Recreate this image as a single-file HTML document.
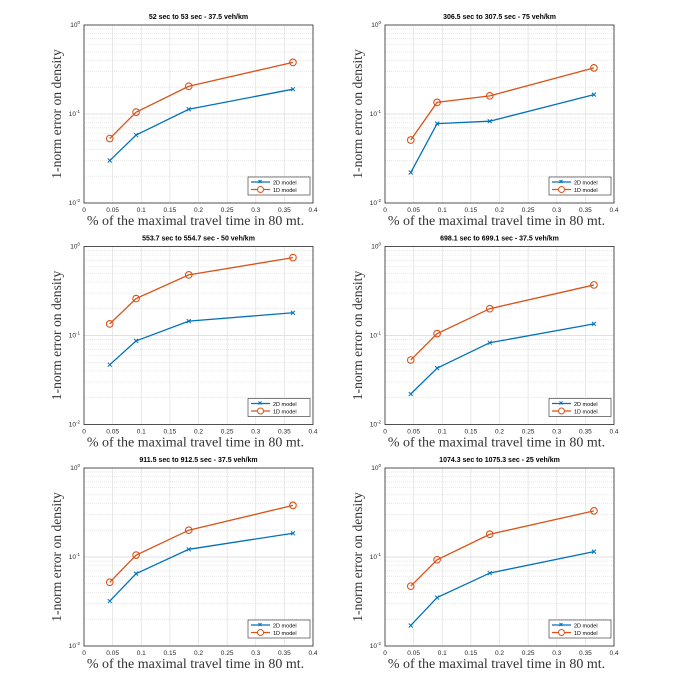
<!DOCTYPE html>
<html><head><meta charset="utf-8"><style>
body{margin:0;background:#fff;}
svg{display:block;}
</style></head><body>
<svg id="fig" width="675" height="682" xmlns="http://www.w3.org/2000/svg"></svg>
<script>
const xValues=[0.045,0.091,0.183,0.365];
const xTicks=[0,0.05,0.1,0.15,0.2,0.25,0.3,0.35,0.4];
const xTickLabels=["0","0.05","0.1","0.15","0.2","0.25","0.3","0.35","0.4"];
const titles=["52 sec to 53 sec - 37.5 veh/km","306.5 sec to 307.5 sec - 75 veh/km","553.7 sec to 554.7 sec - 50 veh/km","698.1 sec to 699.1 sec - 37.5 veh/km","911.5 sec to 912.5 sec - 37.5 veh/km","1074.3 sec to 1075.3 sec - 25 veh/km"];
const series2D=[[0.03,0.058,0.113,0.19],[0.022,0.078,0.083,0.165],[0.047,0.087,0.145,0.18],[0.022,0.043,0.083,0.135],[0.032,0.065,0.122,0.185],[0.017,0.035,0.066,0.115]];
const series1D=[[0.053,0.105,0.205,0.38],[0.051,0.135,0.16,0.33],[0.135,0.26,0.48,0.75],[0.053,0.105,0.2,0.37],[0.052,0.105,0.2,0.38],[0.047,0.093,0.18,0.33]];

const NS="http://www.w3.org/2000/svg";
const fig=document.getElementById('fig');
function mk(tag,attrs,parent,text){const e=document.createElementNS(NS,tag);for(const k in attrs)e.setAttribute(k,attrs[k]);if(text!==undefined)e.textContent=text;parent.appendChild(e);return e;}
const W=229,H=178;
const blue="#0072BD",orange="#D95319";
for(let p=0;p<6;p++){
  const ox=84+(p%2)*301, oy=25+Math.floor(p/2)*221.5;
  const g=mk('g',{},fig);
  
  
  const sx=v=>ox+v/0.4*W;
  const sy=v=>oy+H-(Math.log10(v)+2)/2*H;
  for(let d=-2;d<0;d++)for(let m=2;m<=9;m++){const y=sy(m*Math.pow(10,d));
    mk('line',{x1:ox,x2:ox+W,y1:y,y2:y,stroke:'#dadada','stroke-width':0.6,'stroke-dasharray':'1,1'},g);}
  for(const v of [0.1]){const y=sy(v);mk('line',{x1:ox,x2:ox+W,y1:y,y2:y,stroke:'#d6d6d6','stroke-width':0.7},g);}
  xTicks.forEach(t=>{if(t>0&&t<0.4)mk('line',{x1:sx(t),x2:sx(t),y1:oy,y2:oy+H,stroke:'#e0e0e0','stroke-width':0.7},g);});
  mk('rect',{x:ox,y:oy,width:W,height:H,fill:'none',stroke:'#262626','stroke-width':0.8},g);
  xTicks.forEach((t,i)=>{const l=mk('text',{x:sx(t),y:oy+H+9,'font-size':6.5,'text-anchor':'middle','font-family':'Liberation Sans, sans-serif',fill:'#262626'},g,xTickLabels[i]);
    });
  [[-2,H],[-1,H/2],[0,0]].forEach(([e,dy])=>{const t=mk('text',{x:ox-4,y:oy+dy+2,'font-size':6.5,'text-anchor':'end','font-family':'Liberation Sans, sans-serif',fill:'#262626'},g);
    
    t.appendChild(document.createTextNode('10'));mk('tspan',{dy:-3,'font-size':4.5},t,String(e));});
  const tt=mk('text',{x:ox+W/2,y:oy-6,'font-size':7,'font-weight':'bold','text-anchor':'middle','font-family':'Liberation Sans, sans-serif',fill:'#000'},g,titles[p]);
  
  const xl=mk('text',{x:ox+W/2-3,y:oy+H+22,'font-size':14,'text-anchor':'middle','font-family':'Liberation Serif, serif',fill:'#333'},g,'% of the maximal travel time in 80 mt.');
  
  const yl=mk('text',{x:0,y:0,'font-size':13.6,'text-anchor':'middle','font-family':'Liberation Serif, serif',fill:'#333',transform:`translate(${ox-23},${oy+H/2}) rotate(-90)`},g,'1-norm error on density');
  
  const draw=(vals,col,name,marker)=>{
    const pl=mk('polyline',{points:xValues.map((x,i)=>sx(x)+','+sy(vals[i])).join(' '),fill:'none',stroke:col,'stroke-width':1.3},g);
    
    xValues.forEach((x,i)=>{const cx=sx(x),cy=sy(vals[i]);
      if(marker==='o'){const c=mk('circle',{cx:cx,cy:cy,r:3.3,fill:'none',stroke:col,'stroke-width':1.1},g);
        }
      else{const c=mk('path',{d:`M${cx-2},${cy-2}L${cx+2},${cy+2}M${cx-2},${cy+2}L${cx+2},${cy-2}`,stroke:col,'stroke-width':1},g);
        }});
  };
  draw(series2D[p],blue,'model-2d','x');
  draw(series1D[p],orange,'model-1d','o');
  const lg=mk('g',{},g);
  
  const lx=ox+W-65,ly=oy+H-26;
  mk('rect',{x:lx,y:ly,width:62,height:18,fill:'#fff',stroke:'#262626','stroke-width':0.6},lg);
  mk('line',{x1:lx+3,x2:lx+22,y1:ly+5,y2:ly+5,stroke:blue,'stroke-width':1.2},lg);
  mk('path',{d:`M${lx+10.5},${ly+3}l3,3m-3,0l3,-3`,stroke:blue,'stroke-width':1},lg);
  mk('line',{x1:lx+3,x2:lx+22,y1:ly+12.5,y2:ly+12.5,stroke:orange,'stroke-width':1.2},lg);
  mk('circle',{cx:lx+12.5,cy:ly+12.5,r:3,fill:'#fff',stroke:orange,'stroke-width':1},lg);
  const e1=mk('text',{x:lx+25,y:ly+7.5,'font-size':5.5,'font-family':'Liberation Sans, sans-serif'},lg,'2D model');
  
  const e2=mk('text',{x:lx+25,y:ly+15,'font-size':5.5,'font-family':'Liberation Sans, sans-serif'},lg,'1D model');
  
}
</script>
</body></html>
